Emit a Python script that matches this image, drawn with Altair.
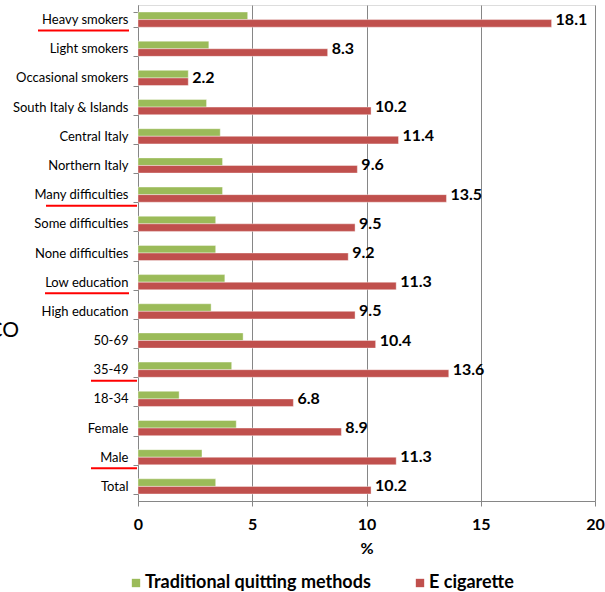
import altair as alt
import pandas as pd

categories = ["Heavy smokers", "Light smokers", "Occasional smokers", "South Italy & Islands",
              "Central Italy", "Northern Italy", "Many difficulties", "Some difficulties",
              "None difficulties", "Low education", "High education", "50-69", "35-49",
              "18-34", "Female", "Male", "Total"]
traditional = [4.8, 3.1, 2.2, 3.0, 3.6, 3.7, 3.7, 3.4, 3.4, 3.8, 3.2, 4.6, 4.1, 1.8, 4.3, 2.8, 3.4]
ecig = [18.1, 8.3, 2.2, 10.2, 11.4, 9.6, 13.5, 9.5, 9.2, 11.3, 9.5, 10.4, 13.6, 6.8, 8.9, 11.3, 10.2]
series_order = ["Traditional quitting methods", "E cigarette"]
x_ticks = [0, 5, 10, 15, 20]
underlined = ["Heavy smokers", "Many difficulties", "Low education", "35-49", "Male"]
side_text = ["CO"]

# styling for the red underline annotations (pixel extents relative to plot's left edge)
underline_extent = {
    "Heavy smokers": (-100, -9),
    "Many difficulties": (-92, -1),
    "Low education": (-93, -9),
    "35-49": (-47, -1),
    "Male": (-47, -1),
}

colors = ["#9BBB59", "#C0504D"]
FONT = "Lato"
GREY = "#868686"

rows = []
for c, t, e in zip(categories, traditional, ecig):
    rows.append({"category": c, "series": series_order[0], "value": t})
    rows.append({"category": c, "series": series_order[1], "value": e})
df = pd.DataFrame(rows)
lab = pd.DataFrame({"category": categories, "value": ecig})

ysc = alt.Scale(domain=categories, paddingInner=0.48, paddingOuter=0.24)
xsc = alt.Scale(domain=[0, 20], nice=False)

bars = alt.Chart(df).mark_bar(stroke="white", strokeWidth=0.4).encode(
    x=alt.X("value:Q", scale=xsc,
            axis=alt.Axis(values=x_ticks, title="%", grid=True, gridColor=GREY,
                          domainColor=GREY, tickColor=GREY, tickSize=5, labelFlush=False,
                          labelFontSize=16, labelFontWeight="bold", labelColor="black",
                          labelPadding=10, titleFontSize=16, titleFontWeight="bold",
                          titleColor="black", titlePadding=8, labelFont=FONT, titleFont=FONT)),
    y=alt.Y("category:N", scale=ysc, sort=categories,
            axis=alt.Axis(title=None, tickBand="extent", domainColor=GREY, tickColor=GREY,
                          tickSize=5, labelFontSize=13, labelColor="black", labelPadding=5,
                          labelFont=FONT, grid=False)),
    yOffset=alt.YOffset("series:N", sort=series_order, scale=alt.Scale(domain=series_order)),
    color=alt.Color("series:N", scale=alt.Scale(domain=series_order, range=colors),
                    legend=alt.Legend(title=None, orient="none", direction="horizontal",
                                      legendX=-11, legendY=569, symbolType="square",
                                      symbolSize=70, symbolStrokeWidth=0, labelFontSize=18,
                                      labelFontWeight="bold", labelColor="black",
                                      labelFont=FONT, columnPadding=40, labelOffset=0,
                                      labelLimit=0)),
)

labels = alt.Chart(lab).mark_text(align="left", baseline="middle", dx=4, fontSize=16,
                                  fontWeight="bold", font=FONT, color="black").encode(
    x=alt.X("value:Q", scale=xsc),
    y=alt.Y("category:N", scale=ysc, sort=categories),
    text=alt.Text("value:Q", format=".1f"),
)

layers = [bars, labels]
for c in underlined:
    x0, x1 = underline_extent[c]
    layers.append(
        alt.Chart(pd.DataFrame({"category": [c]})).mark_rule(color="#FF0000", strokeWidth=2, yOffset=11).encode(
            y=alt.Y("category:N", scale=ysc, sort=categories),
            x=alt.value(x0), x2=alt.value(x1),
        )
    )

co = alt.Chart(pd.DataFrame({"t": side_text})).mark_text(
    align="right", baseline="middle", fontSize=21, font=FONT, color="black").encode(
    text="t:N", x=alt.value(-119), y=alt.value(326))
layers.append(co)

chart = alt.layer(*layers).properties(
    width=457, height=496,
    autosize=alt.AutoSizeParams(type="none"),
    padding={"left": 138, "top": 5, "right": 10, "bottom": 91},
).configure_view(strokeWidth=0).configure(background="white")

chart.save("out.html", embed_options={"renderer": "svg", "actions": False})
